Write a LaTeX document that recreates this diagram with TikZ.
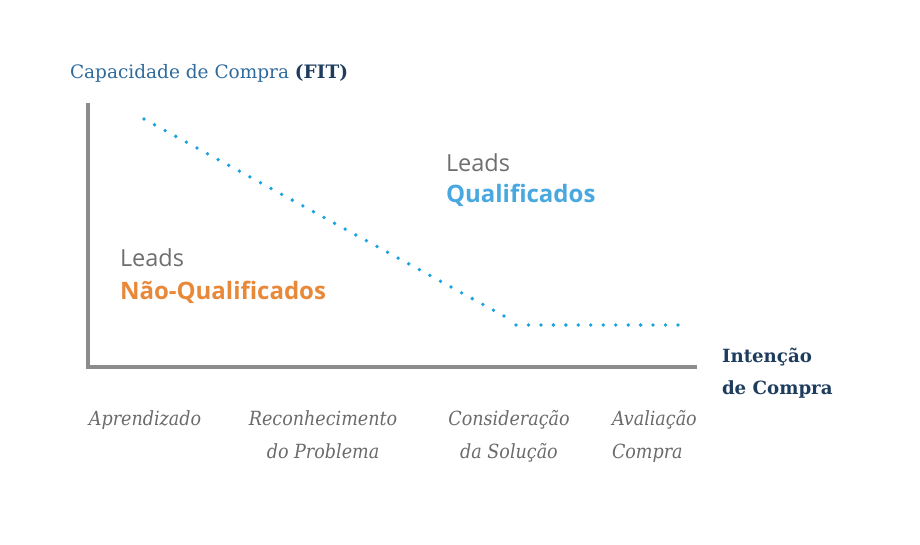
\documentclass[tikz,border=0pt]{standalone}
\usepackage{fontspec}
\setmainfont{DejaVu Serif}
\newfontfamily\opensans{Open Sans}
\newfontfamily\condserif{DejaVu Serif Condensed}
\definecolor{axisgray}{HTML}{8C8C8C}
\definecolor{dotblue}{HTML}{1AA3E0}
\definecolor{titleblue}{HTML}{2F6A9C}
\definecolor{navy}{HTML}{1E3D5E}
\definecolor{leadgray}{HTML}{6E6E6E}
\definecolor{qualblue}{HTML}{4AA8E0}
\definecolor{orangeq}{HTML}{E8893A}
\definecolor{stagegray}{HTML}{6A6A6A}
\begin{document}
\begin{tikzpicture}[x=1pt,y=-1pt,
  every node/.style={inner sep=0pt,outer sep=0pt},
  axisline/.style={draw=axisgray,line width=4pt},
  dotmark/.style={fill=dotblue,circle,minimum size=3.8pt},
  leadtxt/.style={anchor=base west,font=\opensans\fontsize{23.5}{26}\selectfont,text=leadgray},
  qualtxt/.style={anchor=base west,font=\opensans\bfseries\fontsize{24}{26}\selectfont},
  stagetxt/.style={anchor=base,font=\condserif\itshape\fontsize{19.5}{22}\selectfont,text=stagegray,align=center},
  axistxt/.style={anchor=base west,font=\bfseries\fontsize{18.2}{21}\selectfont,text=navy}]
\useasboundingbox (0,0) rectangle (920,545);
% axes
\coordinate (top) at (88,103);
\coordinate (origin) at (88,367);
\coordinate (xend) at (697,367);
\draw[axisline] (top) -- (origin) -- (xend);
% dotted curve
\foreach \i in {0,...,34} {
  \node[dotmark] (d\i) at ({144+\i*(504-144)/34},{119+\i*(316-119)/34}) {};
}
\foreach \i in {0,...,13} {
  \node[dotmark] (h\i) at ({516+\i*(678-516)/13},325) {};
}
% title
\node[anchor=base west,font=\fontsize{18.5}{22}\selectfont,text=titleblue] (ytitle) at (70,79)
  {Capacidade de Compra \textcolor{navy}{\bfseries(FIT)}};
% leads labels
\node[leadtxt] (lq) at (446,172) {Leads};
\node[qualtxt,text=qualblue] (q) at (446,203) {Qualificados};
\node[leadtxt] (lnq) at (120,266) {Leads};
\node[qualtxt,text=orangeq] (nq) at (120,299) {Não-Qualificados};
% x axis title
\node[axistxt] (xt1) at (722,362) {Intenção};
\node[axistxt] (xt2) at (722,394) {de Compra};
% stages
\node[stagetxt] (s1) at (145,425) {Aprendizado};
\node[stagetxt] (s2a) at (323,425) {Reconhecimento};
\node[stagetxt] (s2b) at (323,458) {do Problema};
\node[stagetxt] (s3a) at (509,425) {Consideração};
\node[stagetxt] (s3b) at (509,458) {da Solução};
\node[stagetxt,anchor=base west] (s4a) at (612,425) {Avaliação};
\node[stagetxt,anchor=base west] (s4b) at (612,458) {Compra};
\end{tikzpicture}
\end{document}
